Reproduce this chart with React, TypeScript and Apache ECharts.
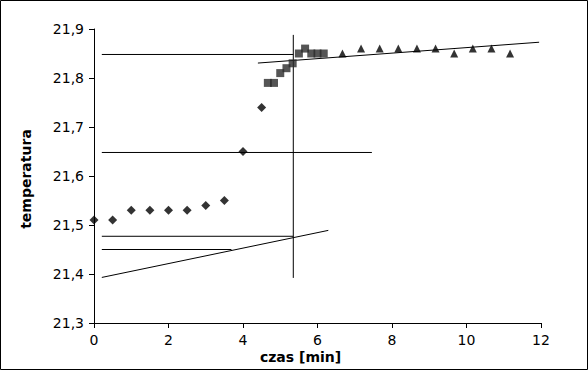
import React, { useEffect, useRef } from "react";
import * as echarts from "echarts";

// Diamonds (first phase)
const diamondX = [0, 0.5, 1, 1.5, 2, 2.5, 3, 3.5, 4, 4.5];
const diamondY = [21.51, 21.51, 21.53, 21.53, 21.53, 21.53, 21.54, 21.55, 21.65, 21.74];

// Squares (main phase)
const squareX = [4.667, 4.833, 5.0, 5.167, 5.333, 5.5, 5.667, 5.833, 6.0, 6.167];
const squareY = [21.79, 21.79, 21.81, 21.82, 21.83, 21.85, 21.86, 21.85, 21.85, 21.85];

// Triangles (final phase)
const triangleX = [6.67, 7.17, 7.67, 8.17, 8.67, 9.17, 9.67, 10.17, 10.67, 11.17];
const triangleY = [21.85, 21.86, 21.86, 21.86, 21.86, 21.86, 21.85, 21.86, 21.86, 21.85];

// Construction lines (start and end points, in data units)
const constructionLines: [number, number][][] = [
  [[5.35, 21.888], [5.35, 21.392]], // vertical
  [[0.21, 21.848], [5.35, 21.848]],
  [[0.21, 21.648], [7.46, 21.648]],
  [[0.21, 21.477], [5.35, 21.477]],
  [[0.21, 21.45], [3.69, 21.45]],
  [[0.21, 21.393], [6.29, 21.489]], // lower trend
  [[4.4, 21.8305], [11.95, 21.873]], // upper trend
];

const xMin = 0;
const xMax = 12;
const xStep = 2;
const yMin = 21.3;
const yMax = 21.9;
const yStep = 0.1;

const xTitle = "czas [min]";
const yTitle = "temperatura";

const FONT = "DejaVu Sans";

export default function App() {
  const ref = useRef<HTMLDivElement>(null);
  useEffect(() => {
    document.body.style.margin = "0";
    const chart = echarts.init(ref.current!, null, { renderer: "svg" });
    const zip = (xs: number[], ys: number[]) => xs.map((x, i) => [x, ys[i]]);
    const lineSeries = constructionLines.map((pts) => ({
      type: "line",
      data: pts,
      symbol: "none",
      silent: true,
      z: 1,
      lineStyle: { color: "#000", width: 1 },
    }));
    chart.setOption({
      animation: false,
      backgroundColor: "#fff",
      grid: { left: 94, right: 47, top: 29, bottom: 47, containLabel: false },
      xAxis: {
        type: "value",
        min: xMin,
        max: xMax,
        interval: xStep,
        axisLine: { show: true, lineStyle: { color: "#000", width: 1 } },
        axisTick: { show: true, length: 5, lineStyle: { color: "#000" } },
        splitLine: { show: false },
        axisLabel: { color: "#000", fontFamily: FONT, fontSize: 14, margin: 10 },
      },
      yAxis: {
        type: "value",
        min: yMin,
        max: yMax,
        interval: yStep,
        axisLine: { show: true, lineStyle: { color: "#000", width: 1 } },
        axisTick: { show: true, length: 5, lineStyle: { color: "#000" } },
        splitLine: { show: false },
        axisLabel: {
          color: "#000",
          fontFamily: FONT,
          fontSize: 14,
          margin: 10,
          formatter: (v: number) => v.toFixed(1).replace(".", ","),
        },
      },
      graphic: [
        {
          type: "rect",
          shape: { x: 0.5, y: 0.5, width: 587, height: 369 },
          style: { fill: "none", stroke: "#000", lineWidth: 1 },
          silent: true,
        },
        {
          type: "text",
          x: 300.5,
          y: 356.5,
          style: {
            text: xTitle,
            font: `bold 14px "${FONT}"`,
            fill: "#000",
            textAlign: "center",
            textVerticalAlign: "middle",
          },
        },
        {
          type: "text",
          x: 25.5,
          y: 179,
          rotation: Math.PI / 2,
          style: {
            text: yTitle,
            font: `bold 14px "${FONT}"`,
            fill: "#000",
            textAlign: "center",
            textVerticalAlign: "middle",
          },
        },
      ],
      series: [
        ...lineSeries,
        {
          type: "scatter",
          data: zip(diamondX, diamondY),
          symbol: "diamond",
          symbolSize: [9, 9],
          itemStyle: { color: "#000" },
          z: 3,
        },
        {
          type: "scatter",
          data: zip(squareX, squareY),
          symbol: "rect",
          symbolSize: 8,
          itemStyle: { color: "#2b2b2b" },
          z: 3,
        },
        {
          type: "scatter",
          data: zip(triangleX, triangleY),
          symbol: "triangle",
          symbolSize: 8,
          itemStyle: { color: "#000" },
          z: 3,
        },
      ],
    });
    return () => chart.dispose();
  }, []);
  return (
    <div
      ref={ref}
      style={{ position: "fixed", left: 0, top: 0, width: 588, height: 370 }}
    />
  );
}
